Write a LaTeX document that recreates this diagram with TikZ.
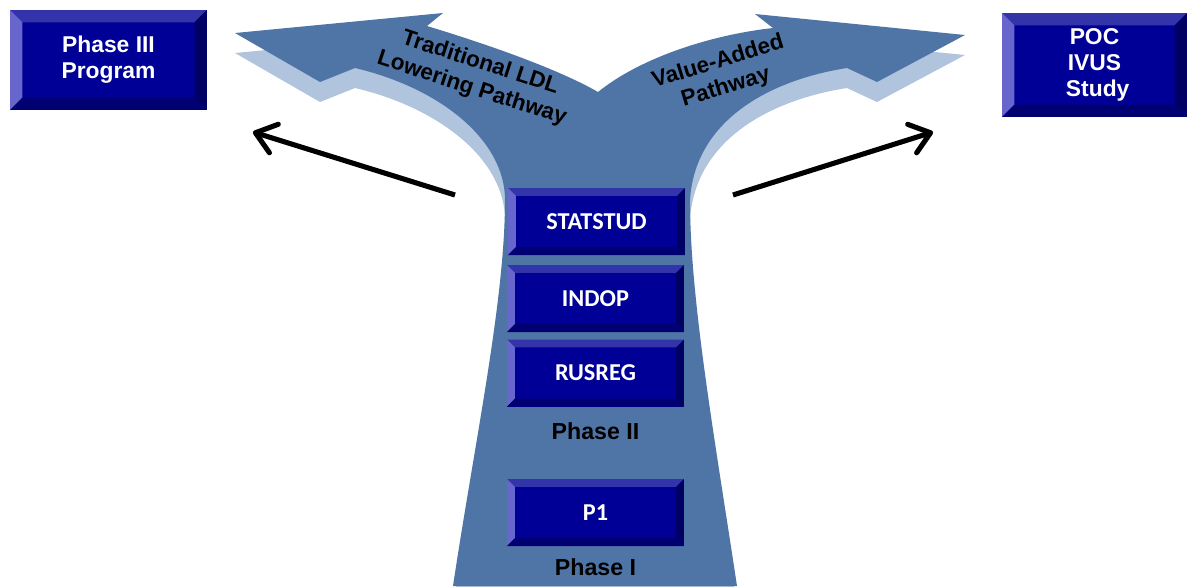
\documentclass[tikz,border=0pt]{standalone}
\usepackage{fontspec}
\newfontfamily\arialfont{Liberation Sans}
\newfontfamily\calfont{Carlito}
\usetikzlibrary{calc, arrows.meta, positioning}
\definecolor{pathblue}{RGB}{79,117,166}
\definecolor{pathside}{RGB}{176,196,222}
\definecolor{boxface}{RGB}{0,0,150}
\definecolor{beveltop}{RGB}{51,51,170}
\definecolor{bevelleft}{RGB}{102,102,204}
\definecolor{bevelright}{RGB}{0,0,100}
\definecolor{bevelbottom}{RGB}{0,0,115}

% bevelled edges of a button, #1 = bevel width
\newcommand{\bevelfaces}[1]{%
  \path (path picture bounding box.north west) coordinate (bnw)
        (path picture bounding box.north east) coordinate (bne)
        (path picture bounding box.south west) coordinate (bsw)
        (path picture bounding box.south east) coordinate (bse);
  \fill[beveltop] (bnw) -- (bne) -- ([shift={(-#1,-#1)}]bne) -- ([shift={(#1,-#1)}]bnw) -- cycle;
  \fill[bevelleft] (bnw) -- (bsw) -- ([shift={(#1,#1)}]bsw) -- ([shift={(#1,-#1)}]bnw) -- cycle;
  \fill[bevelright] (bne) -- (bse) -- ([shift={(-#1,#1)}]bse) -- ([shift={(-#1,-#1)}]bne) -- cycle;
  \fill[bevelbottom] (bsw) -- (bse) -- ([shift={(-#1,#1)}]bse) -- ([shift={(#1,#1)}]bsw) -- cycle;
}

\begin{document}
\begin{tikzpicture}[x=0.02cm, y=-0.02cm]
      % Styles
      \tikzset{bevel/.style={fill=boxface, inner sep=0pt, text=white, align=center, path picture={\bevelfaces{#1}}}, bevel/.default=7pt}
      \tikzset{bigbox/.style={bevel=7pt, font=\arialfont\bfseries\fontsize{13}{14.7}\selectfont}}
      \tikzset{studybox/.style={bevel=4.5pt, minimum width=3.54cm, minimum height=1.34cm, font=\calfont\bfseries\fontsize{13.8}{15}\selectfont}}
      \tikzset{phaselbl/.style={font=\arialfont\bfseries\fontsize{13.2}{15}\selectfont}}
      \tikzset{pathlbl/.style={align=center, font=\arialfont\bfseries\fontsize{12.8}{15.2}\selectfont}}
      \tikzset{pointer/.style={-{Straight Barb[length=11pt,width=17pt,round]}, line width=2.9pt}}

      \useasboundingbox (0,0) rectangle (1188,586);

      % Forked pathway (side face first, then top face)
      \foreach \dy/\col in {20/pathside, 0/pathblue}
        \fill[\col, shift={(0,\dy)}] (453,586) .. controls (475,440) and (505,300) .. (505,200)
          .. controls (505,140) and (440,88) .. (355,68)
          -- (320,82) -- (235,33) -- (443,13) -- (427,26)
          .. controls (490,45) and (560,70) .. (598,92)
          .. controls (640,58) and (710,35) .. (773,28)
          -- (755,14) -- (965,35) -- (877,82) -- (847,68)
          .. controls (770,80) and (695,120) .. (690,200)
          .. controls (690,300) and (715,440) .. (737,586) -- cycle;

      \node[pathlbl, rotate=-18] (tradlbl) at (476,76) {Traditional LDL\\Lowering Pathway};
      \node[pathlbl, rotate=17] (valuelbl) at (722,75) {Value-Added\\Pathway};

      % Targets
      \node[bigbox, minimum width=3.94cm, minimum height=2cm] (phasethree) at (108.5,60) {Phase III\\Program};
      \node[bigbox, minimum width=3.7cm, minimum height=2.08cm] (poc) at (1094.5,65) {POC\\IVUS\\~Study};

      % Studies on the trunk
      \node[studybox] (statstud) at (596.5,221.5) {STATSTUD};
      \node[studybox] (indop) at (595.5,298.5) {INDOP};
      \node[studybox] (rusreg) at (595.5,373) {RUSREG};
      \node[phaselbl, below=0.2cm of rusreg] (phasetwo) {Phase II};
      \node[studybox] (pone) at (595.5,512.5) {P1};
      \node[phaselbl, below=0.12cm of pone] (phaseone) {Phase I};

      % Direction arrows
      \coordinate (ltail) at (455,195);
      \coordinate (lhead) at (253,132);
      \coordinate (rtail) at (733,195);
      \coordinate (rhead) at (933,132);
      \draw[pointer] (ltail) -- (lhead);
      \draw[pointer] (rtail) -- (rhead);
    \end{tikzpicture}
\end{document}
